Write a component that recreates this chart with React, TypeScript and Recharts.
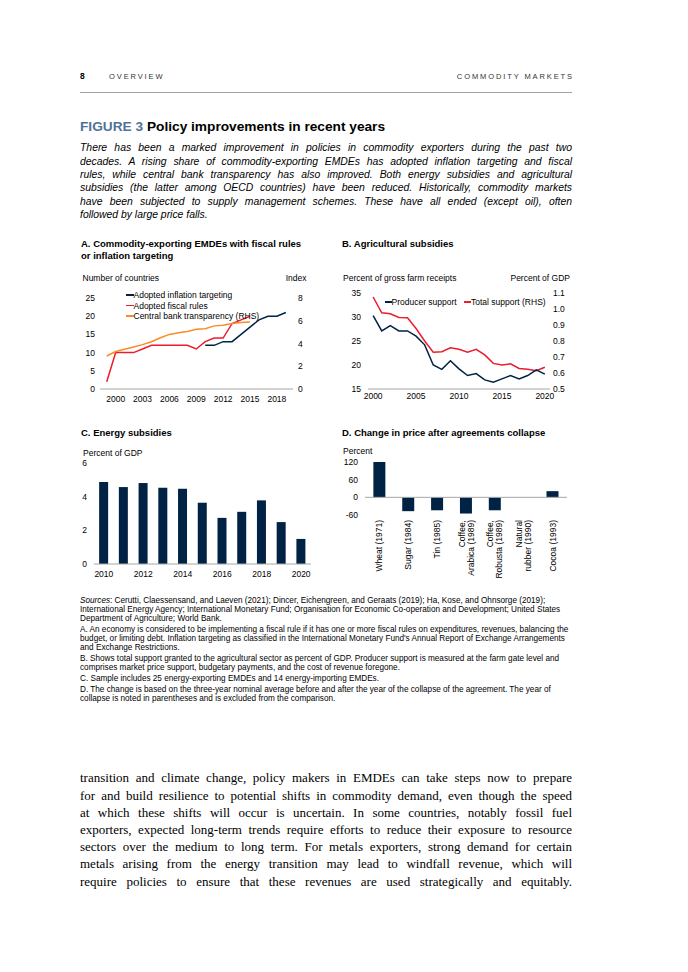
import React from "react";
import { LineChart, Line, BarChart, Bar, XAxis, YAxis, ReferenceLine } from "recharts";

const NAVY = "#002345";
const RED = "#eb1c2d";
const ORANGE = "#f78d28";
const AXIS = "#a6a6a6";
const FONT = "'Liberation Sans', Arial, Helvetica, sans-serif";
const FS = 8.5;

// A. fiscal rules / inflation targeting (1999-2019)
const yearsA = [1999, 2000, 2001, 2002, 2003, 2004, 2005, 2006, 2007, 2008, 2009, 2010, 2011, 2012, 2013, 2014, 2015, 2016, 2017, 2018, 2019];
const inflationTargeting = [null, null, null, null, null, null, null, null, null, null, null, 12, 12, 13, 13, 15, 17, 19, 20, 20, 21];
const fiscalRules = [2, 10, 10, 10, 11, 12, 12, 12, 12, 12, 11, 13, 14, 14, 18, 19, 20, null, null, null, null];
const cbTransparency = [2.9, 3.3, 3.5, 3.7, 3.9, 4.15, 4.5, 4.8, 4.95, 5.05, 5.25, 5.3, 5.55, 5.6, 5.75, 5.85, 5.9, null, null, null, null];
const ticksA = [2000, 2003, 2006, 2009, 2012, 2015, 2018];

// B. agricultural subsidies (2000-2020)
const yearsB = [2000, 2001, 2002, 2003, 2004, 2005, 2006, 2007, 2008, 2009, 2010, 2011, 2012, 2013, 2014, 2015, 2016, 2017, 2018, 2019, 2020];
const producerSupport = [30.3, 27.1, 28.2, 27.1, 27.1, 26, 24.2, 20, 19.1, 20.9, 19.2, 17.8, 18.2, 16.9, 16.4, 17.1, 17.8, 17.1, 17.8, 19, 18.1];
const totalSupport = [1.075, 0.976, 0.97, 0.947, 0.945, 0.878, 0.8, 0.73, 0.733, 0.758, 0.748, 0.73, 0.748, 0.713, 0.66, 0.65, 0.657, 0.628, 0.624, 0.614, 0.636];
const ticksB = [2000, 2005, 2010, 2015, 2020];

// C. energy subsidies
const yearsC = ["2010", "2011", "2012", "2013", "2014", "2015", "2016", "2017", "2018", "2019", "2020"];
const energySubsidies = [4.87, 4.57, 4.81, 4.53, 4.47, 3.64, 2.74, 3.1, 3.78, 2.49, 1.49];

// D. change in price after agreements collapse
const agreements = ["Wheat (1971)", "Sugar (1984)", "Tin (1985)", "Coffee,\nArabica (1989)", "Coffee,\nRobusta (1989)", "Natural\nrubber (1990)", "Cocoa (1993)"];
const priceChange = [120, -47, -44, -55, -44, 0, 21];

const dataA = yearsA.map((year, i) => ({ year, infl: inflationTargeting[i], fiscal: fiscalRules[i], cbt: cbTransparency[i] }));
const dataB = yearsB.map((year, i) => ({ year, producer: producerSupport[i], total: totalSupport[i] }));
const dataC = yearsC.map((year, i) => ({ year, value: energySubsidies[i] }));
const dataD = agreements.map((name, i) => ({ name, value: priceChange[i] }));

const tick = { fontSize: FS, fill: "#000" };

const intro = [
  "There has been a marked improvement in policies in commodity exporters during the past two",
  "decades. A rising share of commodity-exporting EMDEs has adopted inflation targeting and fiscal",
  "rules, while central bank transparency has also improved. Both energy subsidies and agricultural",
  "subsidies (the latter among OECD countries) have been reduced. Historically, commodity markets",
  "have been subjected to supply management schemes. These have all ended (except oil), often",
];

const notes = [
  ["A. An economy is considered to be implementing a fiscal rule if it has one or more fiscal rules on expenditures, revenues, balancing the",
    "budget, or limiting debt. Inflation targeting as classified in the International Monetary Fund's Annual Report of Exchange Arrangements",
    "and Exchange Restrictions."],
  ["B. Shows total support granted to the agricultural sector as percent of GDP. Producer support is measured at the farm gate level and",
    "comprises market price support, budgetary payments, and the cost of revenue foregone."],
  ["C. Sample includes 25 energy-exporting EMDEs and 14 energy-importing EMDEs."],
  ["D. The change is based on the three-year nominal average before and after the year of the collapse of the agreement. The year of",
    "collapse is noted in parentheses and is excluded from the comparison."],
];

const body = [
  "transition and climate change, policy makers in EMDEs can take steps now to prepare",
  "for and build resilience to potential shifts in commodity demand, even though the speed",
  "at which these shifts will occur is uncertain. In some countries, notably fossil fuel",
  "exporters, expected long-term trends require efforts to reduce their exposure to resource",
  "sectors over the medium to long term. For metals exporters, strong demand for certain",
  "metals arising from the energy transition may lead to windfall revenue, which will",
  "require policies to ensure that these revenues are used strategically and equitably.",
];

function Txt({ x, y, size = FS, right, children, style }: any) {
  const pos: any = right ? { right: 688 - x } : { left: x };
  return (
    <div style={{ position: "absolute", ...pos, top: y - size * 0.55, fontSize: size, lineHeight: `${size * 1.1}px`, whiteSpace: "nowrap", ...style }}>
      {children}
    </div>
  );
}

function LegendItem({ x, y, color, label, len = 8 }: any) {
  return (
    <div style={{ position: "absolute", left: x, top: y - 5, height: 10, display: "flex", alignItems: "center", fontSize: FS, whiteSpace: "nowrap" }}>
      <span style={{ display: "inline-block", width: len, height: 1.6, background: color }} />
      <span>{label}</span>
    </div>
  );
}

function AgreementTick({ x, y, payload }: any) {
  const lines = String(payload.value).split("\n");
  const lh = 9;
  return (
    <g transform={`translate(${x},${y}) rotate(-90)`}>
      <text textAnchor="end" fontSize={FS} fill="#000">
        {lines.map((l, i) => (
          <tspan key={i} x={0} y={(i - (lines.length - 1) / 2) * lh + 3}>{l}</tspan>
        ))}
      </text>
    </g>
  );
}

export default function App() {
  return (
    <div style={{ position: "absolute", left: 0, top: 0, width: 688, height: 972, background: "#fff", fontFamily: FONT, color: "#000", overflow: "hidden" }}>
      {/* header */}
      <Txt x={80} y={77} size={8.5} style={{ fontWeight: "bold" }}>8</Txt>
      <Txt x={109} y={77} size={7.5} style={{ letterSpacing: 1.9, color: "#333" }}>OVERVIEW</Txt>
      <Txt x={574} y={77} size={7.5} right style={{ letterSpacing: 1.9, color: "#333" }}>COMMODITY MARKETS</Txt>
      <div style={{ position: "absolute", left: 80, top: 92, width: 492, height: 1, background: "#a0a0a0" }} />

      <Txt x={80} y={126.5} size={13.7} style={{ fontWeight: "bold" }}>
        <span style={{ color: "#4f7298" }}>FIGURE 3</span> Policy improvements in recent years
      </Txt>
      {intro.map((l, i) => (
        <div key={i} style={{ position: "absolute", left: 80, top: 148.5 + i * 13.3 - 6.2, width: 492, fontSize: 10.4, lineHeight: "12.4px", fontStyle: "italic", textAlign: "justify", textAlignLast: "justify", whiteSpace: "nowrap" }}>{l}</div>
      ))}
      <Txt x={80} y={148.5 + 5 * 13.3} size={10.4} style={{ fontStyle: "italic" }}>followed by large price falls.</Txt>

      {/* panel titles */}
      <Txt x={81} y={244.5} size={9.5} style={{ fontWeight: "bold" }}>A. Commodity-exporting EMDEs with fiscal rules</Txt>
      <Txt x={81} y={256.5} size={9.5} style={{ fontWeight: "bold" }}>or inflation targeting</Txt>
      <Txt x={342} y={244.5} size={9.5} style={{ fontWeight: "bold" }}>B. Agricultural subsidies</Txt>
      <Txt x={81} y={433} size={9.5} style={{ fontWeight: "bold" }}>C. Energy subsidies</Txt>
      <Txt x={342} y={433} size={9.5} style={{ fontWeight: "bold" }}>D. Change in price after agreements collapse</Txt>

      {/* A */}
      <Txt x={82.5} y={278.5}>Number of countries</Txt>
      <Txt x={306.5} y={278.5} right>Index</Txt>
      <div style={{ position: "absolute", left: 70, top: 290 }}>
        <LineChart width={240} height={125} data={dataA} margin={{ top: 8, right: 0, bottom: 6, left: 0 }}>
          <XAxis dataKey="year" type="number" domain={[1998.25, 2019.8]} ticks={ticksA} allowDataOverflow height={20}
            tickLine={false} tickSize={0} tickMargin={7} axisLine={{ stroke: AXIS }} tick={tick} />
          <YAxis yAxisId="l" domain={[0, 25]} ticks={[0, 5, 10, 15, 20, 25]} width={30}
            axisLine={false} tickLine={false} tickSize={0} tickMargin={5} tick={tick} />
          <YAxis yAxisId="r" orientation="right" domain={[0, 8]} ticks={[0, 2, 4, 6, 8]} width={17}
            axisLine={false} tickLine={false} tickSize={0} tickMargin={5} tick={tick} />
          <Line yAxisId="l" dataKey="infl" stroke={NAVY} strokeWidth={1.5} dot={false} isAnimationActive={false} />
          <Line yAxisId="l" dataKey="fiscal" stroke={RED} strokeWidth={1.5} dot={false} isAnimationActive={false} />
          <Line yAxisId="r" dataKey="cbt" stroke={ORANGE} strokeWidth={1.5} dot={false} isAnimationActive={false} />
        </LineChart>
      </div>
      <LegendItem x={125.5} y={295} color={NAVY} label="Adopted inflation targeting" />
      <LegendItem x={125.5} y={305.5} color={RED} label="Adopted fiscal rules" />
      <LegendItem x={125.5} y={316} color={ORANGE} label="Central bank transparency (RHS)" />

      {/* B */}
      <Txt x={343} y={279}>Percent of gross farm receipts</Txt>
      <Txt x={570} y={279} right>Percent of GDP</Txt>
      <div style={{ position: "absolute", left: 330, top: 285 }}>
        <LineChart width={250} height={125} data={dataB} margin={{ top: 8, right: 0, bottom: 1, left: 0 }}>
          <XAxis dataKey="year" type="number" domain={[1999.4, 2020.6]} ticks={ticksB} allowDataOverflow height={20}
            tickLine={false} tickSize={0} tickMargin={4} axisLine={{ stroke: AXIS }} tick={tick} />
          <YAxis yAxisId="l" domain={[15, 35]} ticks={[15, 20, 25, 30, 35]} width={38}
            axisLine={false} tickLine={false} tickSize={0} tickMargin={7} tick={tick} />
          <YAxis yAxisId="r" orientation="right" domain={[0.5, 1.1]} ticks={[0.5, 0.6, 0.7, 0.8, 0.9, 1.0, 1.1]} width={30}
            tickFormatter={(v: number) => v.toFixed(1)} axisLine={false} tickLine={false} tickSize={0} tickMargin={3} tick={tick} />
          <Line yAxisId="r" dataKey="total" stroke={RED} strokeWidth={1.5} dot={false} isAnimationActive={false} />
          <Line yAxisId="l" dataKey="producer" stroke={NAVY} strokeWidth={1.5} dot={false} isAnimationActive={false} />
        </LineChart>
      </div>
      <LegendItem x={384.5} y={302} color={NAVY} label="Producer support" len={7} />
      <LegendItem x={464} y={302} color={RED} label="Total support (RHS)" len={7} />

      {/* C */}
      <Txt x={83} y={454}>Percent of GDP</Txt>
      <div style={{ position: "absolute", left: 70, top: 455 }}>
        <BarChart width={241} height={130} data={dataC} margin={{ top: 8, right: 0, bottom: 1, left: 0 }} barCategoryGap="26%">
          <XAxis dataKey="year" interval={1} height={20} tickLine={false} tickSize={0} tickMargin={7}
            axisLine={{ stroke: AXIS }} tick={tick} />
          <YAxis domain={[0, 6]} ticks={[0, 2, 4, 6]} width={24} axisLine={false} tickLine={false}
            tickSize={0} tickMargin={7} tick={tick} />
          <Bar dataKey="value" fill={NAVY} isAnimationActive={false} />
        </BarChart>
      </div>

      {/* D */}
      <Txt x={343} y={452}>Percent</Txt>
      <div style={{ position: "absolute", left: 330, top: 453 }}>
        <BarChart width={237} height={130} data={dataD} margin={{ top: 9, right: 0, bottom: 3, left: 0 }} barCategoryGap="29%">
          <XAxis dataKey="name" interval={0} height={65} tickLine={false} tickSize={0} tickMargin={5}
            axisLine={false} tick={<AgreementTick />} />
          <YAxis domain={[-60, 120]} ticks={[-60, 0, 60, 120]} width={35} axisLine={false} tickLine={false}
            tickSize={0} tickMargin={7} tick={tick} />
          <ReferenceLine y={0} stroke={AXIS} />
          <Bar dataKey="value" fill={NAVY} isAnimationActive={false} />
        </BarChart>
      </div>

      {/* sources and notes */}
      <div style={{ position: "absolute", left: 80, top: 595.5, fontSize: 8.2, lineHeight: "9px", whiteSpace: "nowrap" }}>
        <div><i>Sources</i>: Cerutti, Claessensand, and Laeven (2021); Dincer, Eichengreen, and Geraats (2019); Ha, Kose, and Ohnsorge (2019);</div>
        <div>International Energy Agency; International Monetary Fund; Organisation for Economic Co-operation and Development; United States</div>
        <div>Department of Agriculture; World Bank.</div>
        {notes.map((p, i) => (
          <div key={i} style={{ marginTop: 2 }}>
            {p.map((l, j) => <div key={j}>{l}</div>)}
          </div>
        ))}
      </div>

      {/* body text */}
      {body.map((l, i) => (
        <div key={i} style={{ position: "absolute", left: 80, top: 778.3 + i * 17.2 - 8, width: 492, fontFamily: "'Liberation Serif', 'Times New Roman', serif", fontSize: 13, lineHeight: "16px", textAlign: "justify", textAlignLast: "justify", whiteSpace: "nowrap" }}>{l}</div>
      ))}
    </div>
  );
}
